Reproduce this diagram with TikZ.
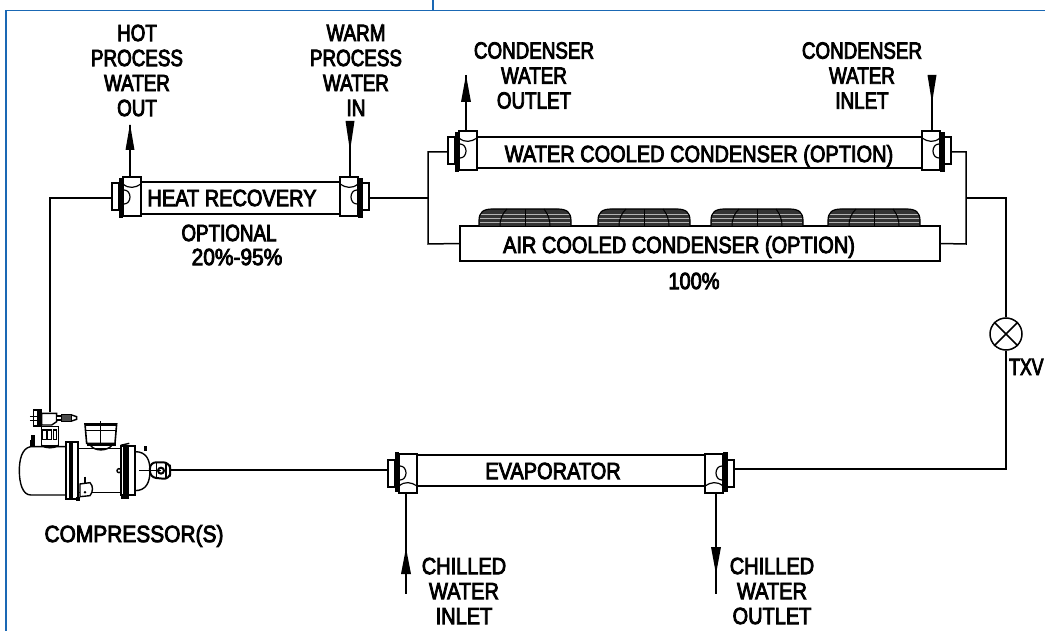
\documentclass[tikz,border=0pt]{standalone}
\usepackage{fontspec}
\setmainfont[FakeStretch=0.85,FakeBold=3.5]{Liberation Sans}
\newfontfamily\narrowface[FakeStretch=0.8,FakeBold=3.5]{Liberation Sans}
\newfontfamily\tightface[FakeStretch=0.75,FakeBold=3.5]{Liberation Sans}
\newfontfamily\wideface[FakeStretch=0.89,FakeBold=3.5]{Liberation Sans}
\definecolor{frameblue}{HTML}{1A68B4}
\tikzset{
  x=1pt,y=-1pt,
  pipe/.style={line width=1.5pt,black},
  lbl/.style={inner sep=0pt,align=center,font=\fontsize{23.5}{25}\selectfont},
  nlbl/.style={lbl,font=\fontsize{23.5}{25}\selectfont\narrowface},
  tube/.style={draw,line width=1.5pt,inner sep=0pt,fill=white},
  tip/.style={fill=black,draw=none},
  tubehead/.pic={
    \draw[line width=1.2pt,fill=white] (-9,-15) rectangle (-2,12);
    \draw[line width=1.3pt,fill=white] (2,-21) rectangle (20,18);
    \draw[line width=1.2pt] (2,-14) .. controls (8,-9) and (14,-10) .. (20,-14);
    \draw[line width=1.2pt] (3,-8) .. controls (11,-8) and (11,6) .. (3,6);
    \fill (-2.5,-20) rectangle (2,20);
  },
  fanunit/.pic={
    \fill[black!80] (0,17) -- (0,12) .. controls (0,3) and (4,0) .. (14,0) -- (78,0) .. controls (88,0) and (92,3) .. (92,12) -- (92,17) -- cycle;
    \foreach \yy in {5,9,13} \draw[white!70!black,line width=.8pt] (1,\yy) -- (91,\yy);
    \draw[line width=1pt] (21,17) .. controls (21,9) and (24,4) .. (28,0);
    \draw[line width=1pt] (46,17) -- (46,0);
    \draw[line width=1pt] (71,17) .. controls (71,9) and (68,4) .. (65,0);
    \draw[line width=1.2pt] (0,17) -- (0,12) .. controls (0,3) and (4,0) .. (14,0) -- (78,0) .. controls (88,0) and (92,3) .. (92,12) -- (92,17);
  }
}
\begin{document}
\begin{tikzpicture}
\useasboundingbox (0,0) rectangle (1045,631);
% frame
\coordinate (fa) at (6,631); \coordinate (fb) at (6,10.5); \coordinate (fc) at (1045,10.5);
\coordinate (fd) at (433,0); \coordinate (fe) at (433,10.5);
\draw[frameblue,line width=1.4pt] (fa) -- (fb) -- (fc);
\draw[frameblue,line width=1.4pt] (fd) -- (fe);

% junctions
\coordinate (hrL) at (113,198); \coordinate (hrR) at (368,198);
\coordinate (jl) at (428,198); \coordinate (jlt) at (428,152); \coordinate (jlb) at (428,244);
\coordinate (jr) at (966,198); \coordinate (jrt) at (966,152); \coordinate (jrb) at (966,244);
\coordinate (wcL) at (449,152); \coordinate (wcR) at (950,152);
\coordinate (txvtop) at (1006,198); \coordinate (cb) at (1006,469);
\coordinate (evL) at (389,470); \coordinate (evR) at (733,469);
\coordinate (compTopB) at (50,412); \coordinate (hrc) at (50,198);
\coordinate (compR) at (170,470);

% tubes
\node[tube,minimum width=203pt,minimum height=32pt] (hr) at (240.5,198) {};
\node[tube,minimum width=447pt,minimum height=31pt] (wc) at (699.5,152.5) {};
\node[tube,minimum width=480pt,minimum height=35pt] (ac) at (700,243.5) {};
\node[tube,minimum width=292pt,minimum height=31pt] (ev) at (561,470.5) {};
\node[draw,circle,line width=1.5pt,minimum size=32pt,inner sep=0pt] (txv) at (1006,334) {};
\draw[line width=1.5pt] (txv.north west) -- (txv.south east) (txv.north east) -- (txv.south west);

% refrigerant circuit
\draw[pipe] (compTopB) -- (hrc) -- (hrL);
\draw[pipe] (hrR) -- (jl);
\draw[pipe] (wcL) -- (jlt) -- (jlb) -- (ac.west);
\draw[pipe] (wcR) -- (jrt) -- (jrb) -- (ac.east);
\draw[pipe] (jr) -- (txvtop) -- (txv.north);
\draw[pipe] (txv.south) -- (cb) -- (evR);
\draw[pipe] (evL) -- (compR);

% fans
\pic at (479,209) {fanunit};
\pic at (598,209) {fanunit};
\pic at (711,209) {fanunit};
\pic at (828,209) {fanunit};

% heads
\pic at (121,198) {tubehead};
\pic[xscale=-1] at (360,198) {tubehead};
\pic at (457,152) {tubehead};
\pic[xscale=-1] at (942,152) {tubehead};
\pic[yscale=-1] at (397,472) {tubehead};
\pic[xscale=-1,yscale=-1] at (725,472) {tubehead};

% water connections
\coordinate (p1a) at (130,177); \coordinate (p1b) at (130,125);
\coordinate (p2a) at (350,177); \coordinate (p2b) at (350,121);
\coordinate (p3a) at (466,131); \coordinate (p3b) at (466,75);
\coordinate (p4a) at (932,131); \coordinate (p4b) at (932,75);
\coordinate (p5a) at (406,492); \coordinate (p5b) at (406,594);
\coordinate (p6a) at (716,492); \coordinate (p6b) at (716,594);
\draw[pipe] (p1a) -- (p1b);
\draw[pipe] (p2a) -- (p2b);
\draw[pipe] (p3a) -- (p3b);
\draw[pipe] (p4a) -- (p4b);
\draw[pipe] (p5a) -- (p5b);
\draw[pipe] (p6a) -- (p6b);
\fill[tip] (130,124) -- (134.5,150) -- (125.5,150) -- cycle;
\fill[tip] (350,151) -- (354.5,121) -- (345.5,121) -- cycle;
\fill[tip] (466,75) -- (471,102) -- (461,102) -- cycle;
\fill[tip] (932,103) -- (936.5,75) -- (927.5,75) -- cycle;
\fill[tip] (406,548) -- (411,574) -- (401,574) -- cycle;
\fill[tip] (716,574) -- (721,547) -- (711,547) -- cycle;

% labels
\node[nlbl] (t1) at (137,70.5) {HOT\\PROCESS\\WATER\\OUT};
\node[nlbl] (t2) at (356,70.5) {WARM\\PROCESS\\WATER\\IN};
\node[nlbl] (t3) at (534,75.5) {CONDENSER\\WATER\\OUTLET};
\node[nlbl] (t4) at (862,75.5) {CONDENSER\\WATER\\INLET};
\node[lbl] (t5) at (232,198) {HEAT RECOVERY};
\node[lbl] (t6) at (699,156) {WATER COOLED CONDENSER (OPTION)};
\node[lbl] (t7) at (679,247) {AIR COOLED CONDENSER (OPTION)};
\node[lbl] (t8) at (694,281) {100\%};
\node[nlbl] (t9) at (229,233) {OPTIONAL};
\node[lbl,font=\fontsize{23.5}{25}\selectfont\wideface] (t10) at (237,257) {20\%-95\%};
\node[lbl] (t11) at (553,471) {EVAPORATOR};
\node[lbl,anchor=west,font=\fontsize{23.5}{25}\selectfont\tightface] (t12) at (1009,367) {TXV};
\node[lbl,font=\fontsize{23.5}{25}\selectfont\wideface] (t13) at (134,536) {COMPRESSOR(S)};
\node[lbl] (t14) at (464,591) {CHILLED\\WATER\\INLET};
\node[lbl] (t15) at (772,591) {CHILLED\\WATER\\OUTLET};

% compressor (drawn in 3x crop coordinates)
\begin{scope}[shift={(0,380)},x=.3333pt,y=-.3333pt,line width=1.4pt]
  \draw[fill=white] (200,200) -- (92,200) .. controls (65,205) and (58,240) .. (58,272) .. controls (58,310) and (68,345) .. (92,345) -- (200,345);
  \draw (235,206) -- (362,206) (235,338) -- (362,338);
  \draw (362,196) -- (388,190);
  \draw[fill=white] (405,215) .. controls (440,215) and (450,240) .. (450,272) .. controls (450,305) and (440,332) .. (405,332);
  % flanges
  \draw[line width=2pt,fill=white] (199,185) rectangle (235,356);
  \fill (206,185) rectangle (219,356);
  \fill (228,352) rectangle (240,362);
  \draw[line width=2pt,fill=white] (363,198) rectangle (406,346);
  \fill (369,198) rectangle (386,346);
  \fill (362,346) rectangle (386,356);
  \foreach \yy in {205,230,258,286,312,335} { \draw[line width=1.2pt] (197,\yy) -- (199,\yy); \draw[line width=1.2pt] (406,\yy) -- (409,\yy); }
  % terminal box
  \draw[fill=white,line width=1.6pt] (255,132) -- (350,132) -- (345,190) -- (260,190) -- cycle;
  \draw[line width=3pt] (255,133) -- (350,133);
  \draw (302,124) -- (302,190);
  \draw (258,152) -- (348,152);
  \draw[fill=black!55] (262,190) rectangle (345,195);
  \draw (272,197) .. controls (285,214) and (320,214) .. (335,197);
  % discharge valve
  \draw (125,140) rectangle (175,196);
  \draw (143,150) rectangle (155,178) (160,150) rectangle (170,178) (128,150) rectangle (140,178);
  \draw (125,196) .. controls (135,206) and (165,206) .. (175,196);
  \draw[fill=white] (100,90) rectangle (125,138);
  \fill (112,90) rectangle (124,138);
  \draw[fill=white] (125,100) -- (170,100) -- (170,125) -- (155,135) -- (125,135) -- cycle;
  \draw (90,110) -- (125,110) (90,122) -- (125,122);
  \draw[fill=white] (170,108) -- (184,108) -- (184,120) -- (170,120);
  \draw[fill=black!70] (184,103) rectangle (215,125);
  \draw (215,105) -- (230,110) -- (230,118) -- (215,123);
  % left fitting
  \fill (90,180) rectangle (105,198);
  \fill (94,165) rectangle (104,180);
  % oil fitting
  \draw[fill=white] (240,312) -- (270,308) .. controls (280,318) and (280,335) .. (270,347) -- (240,350) -- cycle;
  \fill (255,337) circle (4);
  \draw[line width=2pt] (255,290) -- (255,308);
  % sight
  \draw[fill=white] (357,272) circle (6);
  % right fitting
  \fill (432,198) rectangle (442,214);
  \draw[fill=white,line width=2pt,rounded corners=6pt] (450,247) -- (508,247) -- (512,272) -- (508,298) -- (450,292) -- cycle;
  \draw[line width=2pt] (483,272) circle (9);
  \draw (418,272) -- (483,272);
  \draw (470,250) -- (470,296) (498,250) -- (498,296);
\end{scope}
\end{tikzpicture}
\end{document}
